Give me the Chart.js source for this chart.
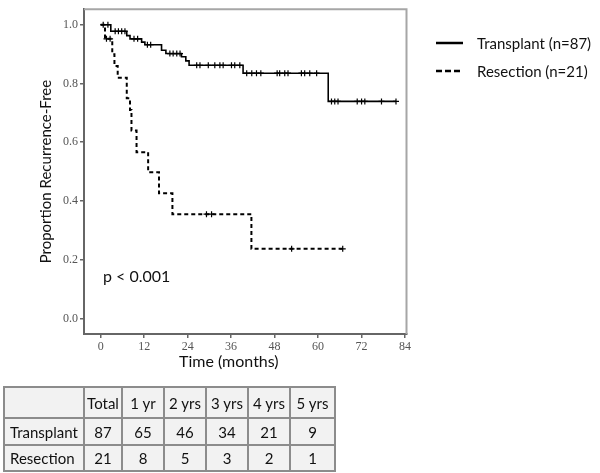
<!DOCTYPE html>
<html>
<head>
<meta charset="utf-8">
<script src="https://cdn.jsdelivr.net/npm/chart.js@4.4.1/dist/chart.umd.min.js"></script>
<style>
  html, body { margin: 0; padding: 0; background: #fff; }
  body { width: 600px; height: 473px; position: relative; overflow: hidden; font-family: Lato, "Open Sans", sans-serif; color: #111; }
  #c { position: absolute; left: 0; top: 0; }
  .abs { position: absolute; white-space: nowrap; }
  #legend .row { position: absolute; left: 436px; height: 20px; width: 164px; }
  #legend svg { position: absolute; left: 0; top: 0; }
  #legend span { position: absolute; left: 41px; top: 0; font-size: 15px; line-height: 20px; white-space: nowrap; }
  table { position: absolute; left: 3px; top: 386px; border-collapse: collapse; font-size: 15px; table-layout: fixed; width: 331px; }
  td { border: 2px solid #8c8c8c; background: #f2f2f2; text-align: center; padding: 0; overflow: hidden; white-space: nowrap; }
  td.lbl { text-align: left; padding-left: 5px; }
</style>
</head>
<body>
<canvas id="c" width="600" height="380"></canvas>
<div class="abs" id="xtitle" style="left:179px; top:350px; font-size:16px; line-height:22px;">Time (months)</div>
<div class="abs" id="pval" style="left:103px; top:265px; font-size:16px; line-height:22px;">p &lt; 0.001</div>
<div id="legend">
  <div class="row" style="top:33px;">
    <svg width="30" height="20"><line x1="0" y1="10" x2="27" y2="10" stroke="#000" stroke-width="2.5"/></svg>
    <span>Transplant (n=87)</span>
  </div>
  <div class="row" style="top:61px;">
    <svg width="30" height="20"><line x1="0" y1="10" x2="27" y2="10" stroke="#000" stroke-width="2.5" stroke-dasharray="6,3"/></svg>
    <span>Resection (n=21)</span>
  </div>
</div>
<div id="tbl"></div>
<script>
// ---- Data ----
const transplantTimes = [0, 2.8, 7.2, 8.1, 11.3, 12.2, 16.8, 18.0, 22.3, 23.5, 24.4, 39.3, 62.8, 81.5];
const transplantSurv  = [1.0, 0.978, 0.963, 0.952, 0.941, 0.932, 0.913, 0.902, 0.891, 0.877, 0.862, 0.835, 0.739, 0.739];
const transplantCensored = [0.7, 2.0, 4.0, 4.9, 5.8, 6.7, 9.2, 10.2, 12.9, 13.8, 19.1, 20.0, 21.0, 21.9,
  26.5, 27.4, 29.7, 31.5, 32.9, 33.8, 36.1, 37.0, 38.4, 40.3, 41.7, 43.0, 44.2, 48.7, 49.4, 50.8, 51.7,
  55.4, 56.3, 57.7, 59.6, 63.7, 64.6, 65.5, 70.8, 72.0, 72.9, 77.5, 81.5];

const resectionTimes = [0, 1.2, 3.2, 3.8, 4.7, 7.2, 8.1, 8.5, 9.9, 13.1, 16.1, 19.8, 41.6, 66.8];
const resectionSurv  = [1.0, 0.952, 0.90, 0.86, 0.82, 0.75, 0.71, 0.64, 0.566, 0.498, 0.426, 0.355, 0.237, 0.237];
const resectionCensored = [1.6, 2.6, 29.2, 30.6, 52.7, 66.8];

const xTickValues = [0, 12, 24, 36, 48, 60, 72, 84];
const yTickValues = [0.0, 0.2, 0.4, 0.6, 0.8, 1.0];

const seriesNames = ["Transplant (n=87)", "Resection (n=21)"];

// At-risk table
const tableHeader = ["", "Total", "1 yr", "2 yrs", "3 yrs", "4 yrs", "5 yrs"];
const tableRowLabels = ["Transplant", "Resection"];
const transplantAtRisk = [87, 65, 46, 34, 21, 9];
const resectionAtRisk  = [21, 8, 5, 3, 2, 1];

// ---- Build table ----
(function(){
  const widths = [80, 38, 42, 42, 42, 42, 45];
  const heights = [31, 27, 26];
  let html = '<table><colgroup>' + widths.map(w => '<col style="width:' + w + 'px">').join('') + '</colgroup>';
  const rows = [tableHeader, [tableRowLabels[0]].concat(transplantAtRisk), [tableRowLabels[1]].concat(resectionAtRisk)];
  rows.forEach((r, ri) => {
    html += '<tr style="height:' + heights[ri] + 'px">';
    r.forEach((c, ci) => {
      html += '<td' + (ci === 0 ? ' class="lbl"' : '') + '>' + c + '</td>';
    });
    html += '</tr>';
  });
  html += '</table>';
  document.getElementById('tbl').innerHTML = html;
})();

// ---- Helpers ----
function stepPoints(times, surv) { return times.map((t, i) => ({x: t, y: surv[i]})); }
function survAt(times, surv, t) {
  let v = surv[0];
  for (let i = 0; i < times.length; i++) { if (times[i] <= t) v = surv[i]; }
  return v;
}
function censorPoints(cens, times, surv) { return cens.map(t => ({x: t, y: survAt(times, surv, t)})); }

const framePlugin = {
  id: 'frame',
  beforeDatasetsDraw(chart) {
    const {ctx, chartArea: a} = chart;
    ctx.save();
    ctx.strokeStyle = '#a6a6a6';
    ctx.lineWidth = 2;
    ctx.beginPath();
    ctx.moveTo(a.left, a.top);
    ctx.lineTo(a.right, a.top);
    ctx.lineTo(a.right, a.bottom);
    ctx.stroke();
    ctx.restore();
  }
};

const tickFont = { family: "'Liberation Serif', 'DejaVu Serif', serif", size: 12 };

new Chart(document.getElementById('c'), {
  type: 'scatter',
  data: {
    datasets: [
      { label: seriesNames[0], type: 'line', data: stepPoints(transplantTimes, transplantSurv), stepped: true,
        borderColor: '#000', borderWidth: 1.6, pointRadius: 0, fill: false },
      { label: seriesNames[1], type: 'line', data: stepPoints(resectionTimes, resectionSurv), stepped: true,
        borderColor: '#000', borderWidth: 2, borderDash: [4, 3], pointRadius: 0, fill: false },
      { label: seriesNames[0] + ' censored', data: censorPoints(transplantCensored, transplantTimes, transplantSurv),
        pointStyle: 'cross', pointRadius: 3, borderColor: '#000', borderWidth: 1.2, backgroundColor: '#000' },
      { label: seriesNames[1] + ' censored', data: censorPoints(resectionCensored, resectionTimes, resectionSurv),
        pointStyle: 'cross', pointRadius: 3, borderColor: '#000', borderWidth: 1.2, backgroundColor: '#000' }
    ]
  },
  options: {
    responsive: false,
    animation: false,
    layout: { padding: { left: 0, top: 5, right: 193.5, bottom: 0 } },
    plugins: { legend: { display: false }, tooltip: { enabled: false } },
    scales: {
      x: {
        type: 'linear', min: -4.6, max: 84.4,
        afterBuildTicks: s => { s.ticks = xTickValues.map(v => ({value: v})); },
        afterFit: s => { s.height = 46; },
        grid: { drawOnChartArea: false, drawTicks: true, tickLength: 4, color: '#666', lineWidth: 1.5 },
        border: { display: true, color: '#666', width: 2 },
        ticks: { color: '#555', font: tickFont, padding: 2, maxRotation: 0 },
        title: { display: false }
      },
      y: {
        type: 'linear', min: -0.053, max: 1.053,
        afterBuildTicks: s => { s.ticks = yTickValues.map(v => ({value: v})); },
        afterFit: s => { s.width = 84; },
        grid: { drawOnChartArea: false, drawTicks: true, tickLength: 4, color: '#666', lineWidth: 1.5 },
        border: { display: true, color: '#666', width: 2 },
        ticks: { color: '#555', font: tickFont, padding: 2, callback: v => Number(v).toFixed(1) },
        title: { display: true, text: 'Proportion Recurrence-Free', color: '#111',
                 font: { family: 'Lato, sans-serif', size: 15 }, padding: { top: 37, bottom: 0 } }
      }
    }
  },
  plugins: [framePlugin]
});
</script>
</body>
</html>
